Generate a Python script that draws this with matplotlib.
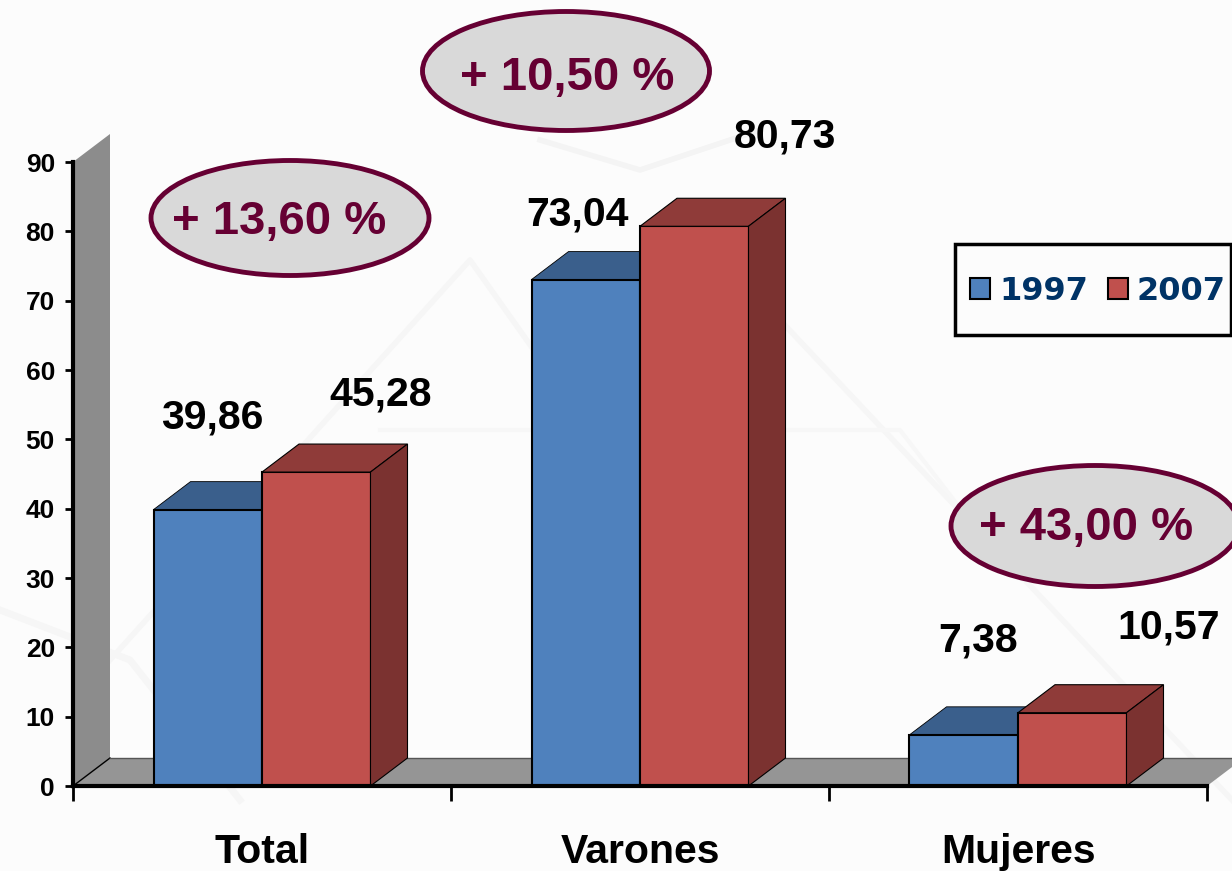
import matplotlib.pyplot as plt
from matplotlib.patches import Ellipse, Polygon, Rectangle
import numpy as np

categories = ["Total", "Varones", "Mujeres"]
years = ["1997", "2007"]
values_1997 = [39.86, 73.04, 7.38]
values_2007 = [45.28, 80.73, 10.57]
labels_1997 = ["39,86", "73,04", "7,38"]
labels_2007 = ["45,28", "80,73", "10,57"]
changes = ["+ 13,60 %", "+ 10,50 %", "+ 43,00 %"]
y_ticks = [0, 10, 20, 30, 40, 50, 60, 70, 80, 90]

W, H = 1232, 871
BLUE, BLUE_TOP = "#4f81bd", "#3a5f8c"
RED, RED_TOP, RED_SIDE = "#c0504d", "#8f3b39", "#7b3230"
WINE = "#660033"

plt.rcParams["font.family"] = ["Liberation Sans", "DejaVu Sans"]
plt.rcParams["font.weight"] = "bold"

fig = plt.figure(figsize=(W / 100, H / 100), dpi=100, facecolor="#fcfcfc")

# faint watermark behind the chart
bg = fig.add_axes([0, 0, 1, 1], zorder=0)
bg.set_xlim(0, W)
bg.set_ylim(H, 0)
bg.axis("off")
bg.plot([110, 470, 640, 780, 1232], [660, 260, 500, 320, 800], color="#f6f6f6", lw=4)
bg.plot([380, 900, 1000], [430, 430, 560], color="#f7f7f7", lw=3)
bg.plot([540, 640, 760], [140, 170, 130], color="#f4f4f4", lw=4)
bg.plot([0, 130, 240], [610, 660, 800], color="#f6f6f6", lw=5)

# axes box in pixels: x 73..1207, y 786 (0) .. 162 (90)
ax = fig.add_axes([73 / W, 1 - 786 / H, (1207 - 73) / W, (786 - 162) / H], zorder=1)
ax.patch.set_alpha(0)
ax.set_xlim(0, 3)
ax.set_ylim(0, 90)

dx = 37 / 378
dy = 28 / (624 / 90)
bw = 108.5 / 378
x = np.arange(3) + 0.5

# wall and floor
ax.add_patch(Polygon([(0, 0), (dx, dy), (dx, 90 + dy), (0, 90)], fc="#8c8c8c", ec="none", clip_on=False, zorder=1))
ax.add_patch(Polygon([(0, 0), (dx, dy), (3 + dx, dy), (3, 0)], fc="#959595", ec="none", clip_on=False, zorder=1))
ax.plot([0, dx], [0, dy], color="black", lw=1, zorder=1.5, clip_on=False)
ax.plot([dx, 3 + dx], [dy, dy], color="#555555", lw=1, zorder=1.5, clip_on=False)

bars_a = ax.bar(x - bw / 2, values_1997, bw, color=BLUE, edgecolor="black", lw=1.5, zorder=3, label=years[0])
bars_b = ax.bar(x + bw / 2, values_2007, bw, color=RED, edgecolor="black", lw=1.5, zorder=3, label=years[1])

for xc, v1, v2 in zip(x, values_1997, values_2007):
    left = xc - bw
    ax.add_patch(Polygon([(left, v1), (left + dx, v1 + dy), (xc + dx, v1 + dy), (xc, v1)],
                         fc=BLUE_TOP, ec="black", lw=0.6, zorder=2.5))
    right = xc + bw
    ax.add_patch(Polygon([(xc, v2), (xc + dx, v2 + dy), (right + dx, v2 + dy), (right, v2)],
                         fc=RED_TOP, ec="black", lw=0.8, zorder=3.5))
    ax.add_patch(Polygon([(right, 0), (right + dx, dy), (right + dx, v2 + dy), (right, v2)],
                         fc=RED_SIDE, ec="black", lw=0.8, zorder=3.5))

for side in ["top", "right"]:
    ax.spines[side].set_visible(False)
for side in ["left", "bottom"]:
    ax.spines[side].set_linewidth(3)
    ax.spines[side].set_zorder(5)

ax.set_yticks(y_ticks)
ax.tick_params(axis="y", labelsize=19, length=6, width=2, pad=7)
ax.set_xticks([0, 1, 2, 3])
ax.set_xticklabels([])
ax.tick_params(axis="x", length=11, width=2)
ax.set_xticks(x, minor=True)
ax.set_xticklabels(categories, minor=True, fontsize=29.5)
ax.tick_params(axis="x", which="minor", length=0, pad=34)

# legend box, then the legend itself centred in it
fig.add_artist(Rectangle((955 / W, 1 - 335 / H), 276 / W, 91 / H, transform=fig.transFigure,
                         fc="none", ec="black", lw=2.5, zorder=3))
leg = ax.legend(handles=[bars_a, bars_b], ncol=2, loc="center",
                bbox_to_anchor=(1098 / W, 1 - 291 / H), bbox_transform=fig.transFigure,
                borderaxespad=0, frameon=False,
                prop={"family": "DejaVu Sans", "weight": "bold", "size": 23},
                labelcolor="#003366", handlelength=0.62, handleheight=0.62, handletextpad=0.28,
                columnspacing=0.62, borderpad=0)
leg.set_zorder(6)

# annotations placed in pixel coordinates
top = fig.add_axes([0, 0, 1, 1], zorder=2)
top.set_xlim(0, W)
top.set_ylim(H, 0)
top.axis("off")

label_xy = [(212, 417), (578, 214), (978, 640)]
for (lx, ly), s in zip(label_xy, labels_1997):
    top.text(lx, ly, s, fontsize=29.5, ha="center", va="center")
label_xy2 = [(381, 394), (785, 137), (1169, 627)]
for (lx, ly), s in zip(label_xy2, labels_2007):
    top.text(lx, ly, s, fontsize=29.5, ha="center", va="center")

ellipses = [(290, 218, 278, 115), (566, 71, 287, 119), (1095, 526, 288, 121)]
text_xy = [(279, 222), (567, 78), (1086, 528)]
for (ex, ey, ew, eh), (tx, ty), s in zip(ellipses, text_xy, changes):
    top.add_patch(Ellipse((ex, ey), ew, eh, fc="#d9d9d9", ec=WINE, lw=3.5))
    top.text(tx, ty, s, fontsize=34, color=WINE, ha="center", va="center")

fig.savefig("out.png", dpi=100, facecolor=fig.get_facecolor())
